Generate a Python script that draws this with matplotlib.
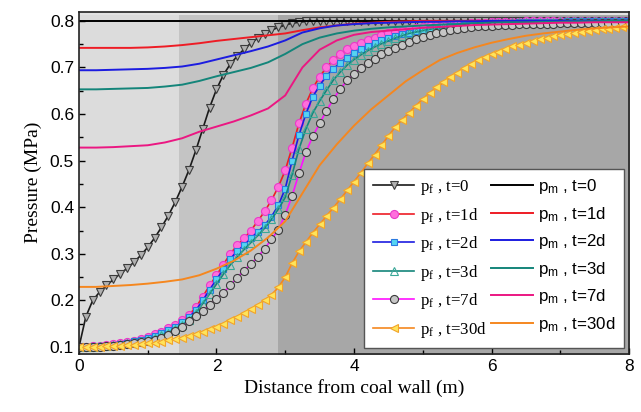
import matplotlib
matplotlib.use("Agg")
import matplotlib.pyplot as plt
from matplotlib.ticker import MultipleLocator

# distance grid for fracture pressure (one marker every 0.1 m)
x_f = [i / 10 for i in range(81)]
# coarser grid for matrix pressure curves
x_m = [i / 4 for i in range(33)]

# fracture pressure p_f (MPa)
pf_0 = [0.100, 0.165, 0.200, 0.218, 0.232, 0.245, 0.257, 0.269, 0.282, 0.297,
        0.314, 0.334, 0.357, 0.382, 0.411, 0.444, 0.480, 0.522, 0.568, 0.614,
        0.653, 0.684, 0.707, 0.724, 0.739, 0.752, 0.763, 0.772, 0.780, 0.786,
        0.791, 0.795, 0.797, 0.799, 0.800, 0.800, 0.800, 0.800, 0.800, 0.800,
        0.800, 0.800, 0.800, 0.800, 0.800, 0.800, 0.800, 0.800, 0.800, 0.800,
        0.800, 0.800, 0.800, 0.800, 0.800, 0.800, 0.800, 0.800, 0.800, 0.800,
        0.800, 0.800, 0.800, 0.800, 0.800, 0.800, 0.800, 0.800, 0.800, 0.800,
        0.800, 0.800, 0.800, 0.800, 0.800, 0.800, 0.800, 0.800, 0.800, 0.800,
        0.800]
pf_1d = [0.100, 0.101, 0.102, 0.103, 0.104, 0.106, 0.108, 0.110, 0.113, 0.117,
         0.122, 0.127, 0.133, 0.140, 0.148, 0.157, 0.169, 0.185, 0.208, 0.232,
         0.254, 0.277, 0.300, 0.318, 0.333, 0.350, 0.370, 0.391, 0.415, 0.444,
         0.479, 0.528, 0.580, 0.622, 0.655, 0.680, 0.700, 0.716, 0.728, 0.739,
         0.747, 0.753, 0.759, 0.764, 0.769, 0.773, 0.776, 0.779, 0.782, 0.784,
         0.786, 0.788, 0.790, 0.791, 0.792, 0.793, 0.794, 0.795, 0.796, 0.796,
         0.797, 0.797, 0.798, 0.798, 0.798, 0.799, 0.799, 0.799, 0.799, 0.799,
         0.800, 0.800, 0.800, 0.800, 0.800, 0.800, 0.800, 0.800, 0.800, 0.800,
         0.800]
pf_2d = [0.100, 0.101, 0.102, 0.102, 0.103, 0.105, 0.107, 0.109, 0.112, 0.115,
         0.119, 0.124, 0.130, 0.137, 0.144, 0.153, 0.164, 0.179, 0.200, 0.223,
         0.245, 0.267, 0.289, 0.306, 0.318, 0.333, 0.347, 0.361, 0.380, 0.404,
         0.440, 0.500, 0.555, 0.600, 0.637, 0.661, 0.682, 0.697, 0.710, 0.721,
         0.731, 0.740, 0.747, 0.753, 0.759, 0.764, 0.768, 0.772, 0.775, 0.778,
         0.781, 0.783, 0.785, 0.787, 0.789, 0.790, 0.791, 0.792, 0.793, 0.794,
         0.795, 0.795, 0.796, 0.796, 0.797, 0.797, 0.797, 0.798, 0.798, 0.798,
         0.798, 0.799, 0.799, 0.799, 0.799, 0.799, 0.800, 0.800, 0.800, 0.800,
         0.800]
pf_3d = [0.100, 0.100, 0.101, 0.102, 0.103, 0.104, 0.106, 0.108, 0.110, 0.113,
         0.116, 0.120, 0.125, 0.131, 0.139, 0.147, 0.158, 0.173, 0.193, 0.214,
         0.235, 0.256, 0.276, 0.293, 0.309, 0.324, 0.339, 0.355, 0.374, 0.396,
         0.421, 0.470, 0.525, 0.568, 0.602, 0.628, 0.651, 0.673, 0.690, 0.705,
         0.717, 0.727, 0.736, 0.744, 0.751, 0.757, 0.763, 0.768, 0.773, 0.776,
         0.779, 0.782, 0.784, 0.786, 0.788, 0.790, 0.791, 0.792, 0.793, 0.794,
         0.795, 0.796, 0.796, 0.797, 0.797, 0.797, 0.798, 0.798, 0.798, 0.798,
         0.799, 0.799, 0.799, 0.799, 0.799, 0.799, 0.800, 0.800, 0.800, 0.800,
         0.800]
pf_7d = [0.100, 0.100, 0.101, 0.101, 0.102, 0.103, 0.104, 0.106, 0.108, 0.110,
         0.113, 0.116, 0.120, 0.126, 0.134, 0.143, 0.155, 0.166, 0.177, 0.190,
         0.203, 0.216, 0.232, 0.249, 0.264, 0.278, 0.293, 0.311, 0.331, 0.352,
         0.384, 0.424, 0.473, 0.518, 0.552, 0.580, 0.607, 0.632, 0.654, 0.672,
         0.686, 0.698, 0.709, 0.719, 0.728, 0.735, 0.742, 0.748, 0.754, 0.760,
         0.765, 0.770, 0.774, 0.777, 0.780, 0.783, 0.785, 0.787, 0.788, 0.789,
         0.790, 0.791, 0.792, 0.792, 0.793, 0.793, 0.794, 0.794, 0.794, 0.794,
         0.795, 0.795, 0.795, 0.795, 0.795, 0.795, 0.795, 0.795, 0.795, 0.795,
         0.795]
pf_30d = [0.100, 0.100, 0.101, 0.101, 0.102, 0.102, 0.103, 0.104, 0.105, 0.106,
          0.108, 0.109, 0.111, 0.114, 0.117, 0.120, 0.124, 0.128, 0.133, 0.138,
          0.144, 0.150, 0.157, 0.165, 0.173, 0.181, 0.190, 0.200, 0.212, 0.228,
          0.250, 0.280, 0.305, 0.325, 0.345, 0.363, 0.381, 0.399, 0.417, 0.436,
          0.455, 0.474, 0.494, 0.513, 0.533, 0.553, 0.572, 0.588, 0.602, 0.618,
          0.632, 0.645, 0.657, 0.668, 0.679, 0.689, 0.699, 0.708, 0.716, 0.722,
          0.728, 0.734, 0.740, 0.745, 0.749, 0.753, 0.757, 0.761, 0.764, 0.767,
          0.770, 0.772, 0.774, 0.776, 0.778, 0.780, 0.782, 0.783, 0.785, 0.786,
          0.787]

# matrix pressure p_m (MPa)
pm_0 = [0.800] * 33
pm_1d = [0.742, 0.742, 0.742, 0.742, 0.743, 0.745, 0.748, 0.752, 0.757, 0.761,
         0.765, 0.769, 0.773, 0.780, 0.786, 0.790, 0.794, 0.796, 0.798, 0.799,
         0.800, 0.800, 0.800, 0.800, 0.800, 0.800, 0.800, 0.800, 0.800, 0.800,
         0.800, 0.800, 0.800]
pm_2d = [0.694, 0.694, 0.695, 0.696, 0.697, 0.699, 0.702, 0.708, 0.717, 0.726,
         0.735, 0.745, 0.758, 0.775, 0.784, 0.790, 0.793, 0.795, 0.796, 0.797,
         0.798, 0.798, 0.799, 0.799, 0.800, 0.800, 0.800, 0.800, 0.800, 0.800,
         0.800, 0.800, 0.800]
pm_3d = [0.653, 0.653, 0.654, 0.655, 0.656, 0.659, 0.663, 0.671, 0.681, 0.690,
         0.699, 0.711, 0.729, 0.750, 0.764, 0.773, 0.779, 0.783, 0.786, 0.788,
         0.790, 0.792, 0.793, 0.795, 0.796, 0.797, 0.797, 0.798, 0.798, 0.799,
         0.799, 0.800, 0.800]
pm_7d = [0.528, 0.528, 0.529, 0.531, 0.533, 0.539, 0.548, 0.562, 0.573, 0.584,
         0.597, 0.612, 0.640, 0.700, 0.738, 0.758, 0.770, 0.776, 0.779, 0.782,
         0.785, 0.787, 0.789, 0.791, 0.792, 0.793, 0.794, 0.795, 0.796, 0.796,
         0.797, 0.797, 0.797]
pm_30d = [0.229, 0.229, 0.231, 0.233, 0.236, 0.240, 0.245, 0.254, 0.268, 0.285,
          0.307, 0.335, 0.370, 0.430, 0.490, 0.535, 0.575, 0.610, 0.640, 0.670,
          0.694, 0.716, 0.731, 0.743, 0.753, 0.761, 0.768, 0.773, 0.777, 0.781,
          0.784, 0.786, 0.788]

times = ["0", "1d", "2d", "3d", "7d", "30d"]

fig = plt.figure(figsize=(6.41, 4.12), dpi=100)
ax = fig.add_axes([0.1232, 0.1408, 0.8581, 0.8312])
ax.set_facecolor("#e3e3e3")

# shaded zones along the distance axis
ax.fill_between([0, 1.46], 0.0, 0.812, color="#dcdcdc", lw=0, zorder=0)
ax.fill_between([1.46, 2.9], 0.0, 0.812, color="#c4c4c4", lw=0, zorder=0)
ax.fill_between([2.9, 8.2], 0.0, 0.812, color="#a7a7a7", lw=0, zorder=0)

ms = 5.8
pf_lines = []
pf_lines.append(ax.plot(x_f, pf_0, color="#1a1a1a", lw=1.2, marker="v", ms=ms,
                        mfc="#b0b0b0", mec="#3c3c3c", mew=0.8)[0])
pf_lines.append(ax.plot(x_f, pf_1d, color="#ee1c25", lw=1.2, marker="o", ms=ms,
                        mfc="#ff6fdc", mec="#e83cc8", mew=0.8)[0])
pf_lines.append(ax.plot(x_f, pf_2d, color="#1c1ce0", lw=1.2, marker="s", ms=4.6,
                        mfc="#55d4f2", mec="#2a7ae0", mew=0.8)[0])
pf_lines.append(ax.plot(x_f, pf_3d, color="#14857a", lw=1.2, marker="^", ms=ms,
                        mfc="none", mec="#3aa898", mew=0.8)[0])
pf_lines.append(ax.plot(x_f, pf_7d, color="#ff10ff", lw=1.2, marker="o", ms=ms,
                        mfc="#c6c6c6", mec="#3a3a3a", mew=0.8)[0])
pf_lines.append(ax.plot(x_f, pf_30d, color="#f5871f", lw=1.2, marker="<", ms=ms,
                        mfc="#ffe45a", mec="#f2a42a", mew=0.8)[0])

pm_lines = []
for ys, c in zip([pm_0, pm_1d, pm_2d, pm_3d, pm_7d, pm_30d],
                 ["#000000", "#ee1c25", "#1c1ce0", "#14857a", "#eb1782", "#f5871f"]):
    pm_lines.append(ax.plot(x_m, ys, color=c, lw=1.4)[0])

ax.set_xlim(0, 8)
ax.set_ylim(0.085, 0.82)
ax.xaxis.set_major_locator(MultipleLocator(2))
ax.xaxis.set_minor_locator(MultipleLocator(1))
ax.yaxis.set_major_locator(MultipleLocator(0.1))
ax.yaxis.set_minor_locator(MultipleLocator(0.05))
ax.tick_params(which="both", direction="in", width=1.0, length=4, top=False, right=False)
ax.tick_params(which="minor", length=3)
for lab in ax.get_xticklabels() + ax.get_yticklabels():
    lab.set_family("Liberation Sans")
    lab.set_fontsize(12.5)
for s in ax.spines.values():
    s.set_linewidth(1.2)
    s.set_color("#222222")

ax.set_xlabel("Distance from coal wall (m)", family="Liberation Serif", fontsize=14, labelpad=4)
ax.set_ylabel("Pressure (MPa)", family="Liberation Serif", fontsize=14, labelpad=6)

labels = [r"$\mathregular{p_f}$ , t=" + t for t in times] + \
         [r"$\mathregular{p_m}$ , t=" + t for t in times]
leg = ax.legend(pf_lines + pm_lines, labels, ncol=2, loc="lower right",
                bbox_to_anchor=(0.991, 0.0175), borderaxespad=0,
                fontsize=12.2, handlelength=2.45, handletextpad=0.3,
                columnspacing=0.3, labelspacing=0.5, borderpad=0.5,
                fancybox=False, framealpha=1, edgecolor="#555555")
leg.get_frame().set_linewidth(1.0)
for i, txt in enumerate(leg.get_texts()):
    txt.set_family("Liberation Serif" if i < 6 else "Liberation Sans")

fig.savefig("out.png", dpi=100)
